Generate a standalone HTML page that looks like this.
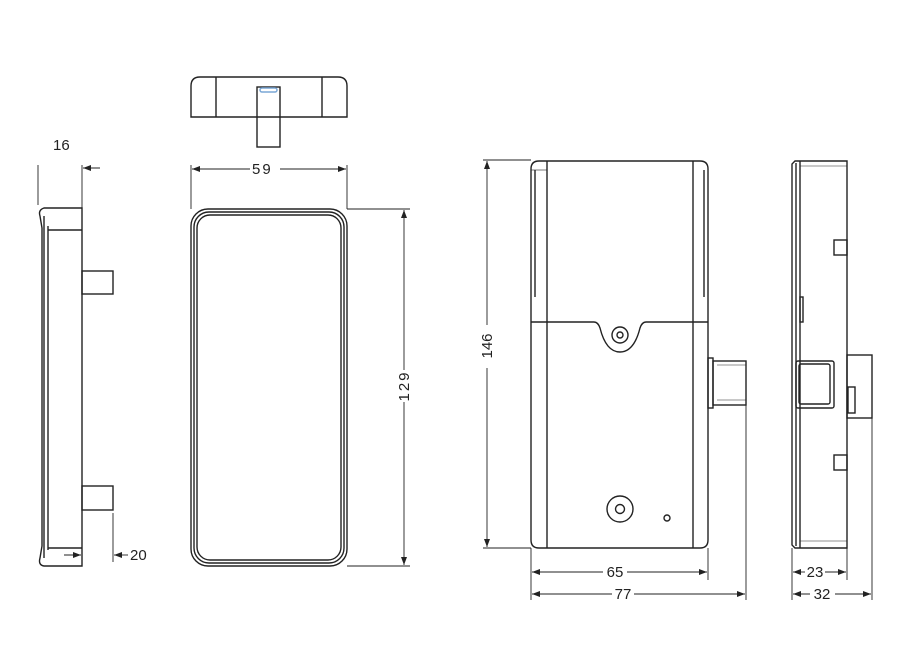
<!DOCTYPE html>
<html><head><meta charset="utf-8"><style>
html,body{margin:0;padding:0;background:#fff;}
svg{display:block}
text{font-family:"Liberation Sans",sans-serif;font-size:15px;fill:#222}
</style></head><body>
<svg width="908" height="667" viewBox="0 0 908 667" xmlns="http://www.w3.org/2000/svg">
<defs>
<marker id="a" markerWidth="8" markerHeight="6" refX="8" refY="3" orient="auto" markerUnits="userSpaceOnUse"><path d="M0,0 L8,3 L0,6 z" fill="#222"/></marker>
</defs>
<g fill="none" stroke="#222" stroke-width="1.4">
<path d="M82,208 L44,208 Q38,210 40,216 L42,228 L42,546 L40,558 Q38,565 44,566 L82,566 Z"/>
<line x1="44" y1="216" x2="44" y2="558"/>
<line x1="48" y1="226" x2="48" y2="550"/>
<line x1="48" y1="230" x2="82" y2="230"/>
<line x1="48" y1="548" x2="82" y2="548"/>
<rect x="82" y="271" width="31" height="23"/>
<rect x="82" y="486" width="31" height="24"/>
<line x1="38" y1="165" x2="38" y2="205" stroke-width="0.9"/>
<line x1="82" y1="165" x2="82" y2="208" stroke-width="0.9"/>
<line x1="100" y1="168" x2="83" y2="168" stroke-width="0.9" marker-end="url(#a)"/>
<line x1="113" y1="513" x2="113" y2="562" stroke-width="0.9"/>
<line x1="128" y1="555" x2="114" y2="555" stroke-width="0.9" marker-end="url(#a)"/>
<line x1="64" y1="555" x2="81" y2="555" stroke-width="0.9" marker-end="url(#a)"/>
<path d="M191,117 L191,86 Q191,77 200,77 L338,77 Q347,77 347,86 L347,117 Z"/>
<line x1="216" y1="77" x2="216" y2="117"/>
<line x1="322" y1="77" x2="322" y2="117"/>
<rect x="257" y="87" width="23" height="60"/>
<rect x="260" y="88" width="17" height="4" rx="2" stroke="#7aa7d6" stroke-width="1.5"/>
<rect x="191" y="209" width="156" height="357" rx="17"/>
<rect x="194" y="212" width="150" height="351" rx="15"/>
<rect x="197" y="215" width="144" height="345" rx="13"/>
<line x1="191" y1="165" x2="191" y2="209" stroke-width="0.9"/>
<line x1="347" y1="165" x2="347" y2="209" stroke-width="0.9"/>
<line x1="250" y1="169" x2="192" y2="169" stroke-width="0.9" marker-end="url(#a)"/>
<line x1="280" y1="169" x2="346" y2="169" stroke-width="0.9" marker-end="url(#a)"/>
<line x1="347" y1="209" x2="410" y2="209" stroke-width="0.9"/>
<line x1="347" y1="566" x2="410" y2="566" stroke-width="0.9"/>
<line x1="404" y1="370" x2="404" y2="210" stroke-width="0.9" marker-end="url(#a)"/>
<line x1="404" y1="402" x2="404" y2="565" stroke-width="0.9" marker-end="url(#a)"/>
<path d="M539,161 L700,161 Q708,161 708,169 L708,540 Q708,548 700,548 L539,548 Q531,548 531,540 L531,169 Q531,161 539,161 Z"/>
<line x1="547" y1="161" x2="547" y2="548"/>
<line x1="693" y1="161" x2="693" y2="548"/>
<line x1="535" y1="170" x2="535" y2="297"/>
<line x1="704" y1="170" x2="704" y2="297"/>
<line x1="531" y1="170" x2="547" y2="170" stroke-width="0.6"/>
<path d="M531,322 L594,322 Q598,322 600,328 Q606,352 620,352 Q634,352 640,328 Q642,322 646,322 L708,322"/>
<circle cx="620" cy="335" r="8"/><circle cx="620" cy="335" r="3"/>
<circle cx="620" cy="509" r="13"/><circle cx="620" cy="509" r="4.5"/>
<circle cx="667" cy="518" r="3"/>
<rect x="708" y="358" width="5" height="50"/>
<rect x="713" y="361" width="33" height="44"/>
<line x1="717" y1="365" x2="746" y2="365" stroke-width="0.6"/>
<line x1="717" y1="400" x2="746" y2="400" stroke-width="0.6"/>
<line x1="483" y1="160" x2="531" y2="160" stroke-width="0.9"/>
<line x1="483" y1="548" x2="531" y2="548" stroke-width="0.9"/>
<line x1="487" y1="325" x2="487" y2="161" stroke-width="0.9" marker-end="url(#a)"/>
<line x1="487" y1="368" x2="487" y2="547" stroke-width="0.9" marker-end="url(#a)"/>
<line x1="531" y1="548" x2="531" y2="600" stroke-width="0.9"/>
<line x1="708" y1="548" x2="708" y2="580" stroke-width="0.9"/>
<line x1="746" y1="405" x2="746" y2="600" stroke-width="0.9"/>
<line x1="603" y1="572" x2="532" y2="572" stroke-width="0.9" marker-end="url(#a)"/>
<line x1="627" y1="572" x2="707" y2="572" stroke-width="0.9" marker-end="url(#a)"/>
<line x1="612" y1="594" x2="532" y2="594" stroke-width="0.9" marker-end="url(#a)"/>
<line x1="634" y1="594" x2="745" y2="594" stroke-width="0.9" marker-end="url(#a)"/>
<path d="M795,161 L847,161 L847,548 L795,548 L792,545 L792,164 Z"/>
<line x1="796" y1="163" x2="796" y2="546"/>
<line x1="800" y1="161" x2="800" y2="548"/>
<line x1="800" y1="166" x2="847" y2="166" stroke-width="0.6"/>
<line x1="800" y1="541" x2="847" y2="541" stroke-width="0.6"/>
<rect x="800" y="297" width="3" height="25"/>
<rect x="834" y="240" width="13" height="15"/>
<rect x="834" y="455" width="13" height="15"/>
<rect x="796" y="361" width="38" height="47" rx="2"/>
<rect x="799" y="364" width="31" height="40" rx="2"/>
<rect x="847" y="355" width="25" height="63"/>
<rect x="848" y="387" width="7" height="26"/>
<line x1="792" y1="548" x2="792" y2="600" stroke-width="0.9"/>
<line x1="847" y1="548" x2="847" y2="580" stroke-width="0.9"/>
<line x1="872" y1="418" x2="872" y2="600" stroke-width="0.9"/>
<line x1="805" y1="572" x2="793" y2="572" stroke-width="0.9" marker-end="url(#a)"/>
<line x1="825" y1="572" x2="846" y2="572" stroke-width="0.9" marker-end="url(#a)"/>
<line x1="810" y1="594" x2="793" y2="594" stroke-width="0.9" marker-end="url(#a)"/>
<line x1="835" y1="594" x2="871" y2="594" stroke-width="0.9" marker-end="url(#a)"/>
</g>
<text x="53" y="150">16</text>
<text x="130" y="560">20</text>
<text x="252" y="174" letter-spacing="2">59</text>
<text transform="translate(409,386) rotate(-90)" text-anchor="middle" letter-spacing="2">129</text>
<text transform="translate(492,346) rotate(-90)" text-anchor="middle">146</text>
<text x="615" y="577" text-anchor="middle">65</text>
<text x="623" y="599" text-anchor="middle">77</text>
<text x="815" y="577" text-anchor="middle">23</text>
<text x="822" y="599" text-anchor="middle">32</text>
</svg>
</body></html>
